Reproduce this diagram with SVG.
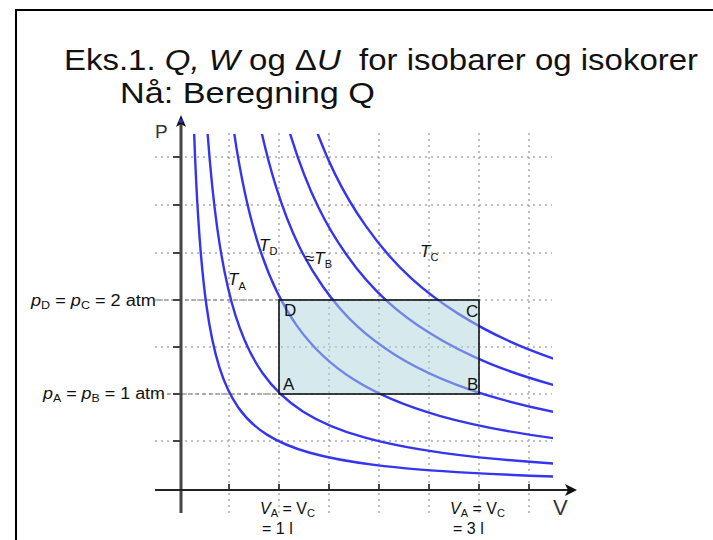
<svg xmlns="http://www.w3.org/2000/svg" width="713" height="540" viewBox="0 0 713 540">
<style>
text{font-family:"Liberation Sans",Arial,sans-serif;fill:#111}
.grid{stroke:#aaa;stroke-width:1.5;stroke-dasharray:2,4;fill:none}
.lead{stroke:#999;stroke-width:1.3;stroke-dasharray:4,3;fill:none}
.iso{fill:none;stroke:#3535f0}
.tick{stroke:#444;stroke-width:2}
.it{font-style:italic}
.ttl{font-size:29px}
</style>
<defs>
<path id="hyp" d="M8,-291.99 C9.333,-243.32 10.667,-216.29 12,-194.66 C14,-162.22 16,-144.19 18,-129.77 C21,-108.14 24,-96.13 27,-86.51 C31.5,-72.09 36,-64.08 40.5,-57.68 C47.25,-48.06 54,-42.72 60.75,-38.45 C70.875,-32.04 81,-28.48 91.125,-25.63 C106.31,-21.36 121.5,-18.99 136.69,-17.09 C159.47,-14.24 182.25,-12.66 205.03,-11.39 C239.2,-9.494 273.4,-8.439 307.55,-7.595"/>
<clipPath id="plot"><rect x="181" y="134" width="372" height="356"/></clipPath>
</defs>
<rect x="16" y="10" width="760" height="600" fill="none" stroke="#000" stroke-width="2"/>
<g id="title">
<g transform="translate(64,0) scale(1.137,1)">
<text class="ttl" x="0" y="70">Eks.1. <tspan class="it">Q, W</tspan> og Δ<tspan class="it">U</tspan>&#160; for isobarer og isokorer</text>
</g>
<text class="ttl" x="120" y="103" textLength="255" lengthAdjust="spacingAndGlyphs">Nå: Beregning Q</text>
</g>
<g id="grid">
<path class="grid" d="M229,133V513M279,133V513M329,133V513M379,133V513M429,133V513M479,133V513M529,133V513"/>
<path class="grid" d="M155,157H552M155,205H552M155,253H552M155,300H552M155,347H552M155,394H552M155,441H552"/>
<path class="lead" d="M157,300H279M167,394H279"/>
</g>
<g id="isotherms" clip-path="url(#plot)">
<use href="#hyp" class="iso" transform="translate(181,489) scale(1.414)" stroke-width="1.70"/>
<use href="#hyp" class="iso" transform="translate(181,489) scale(2.012)" stroke-width="1.19"/>
<use href="#hyp" class="iso" transform="translate(181,489) scale(2.846)" stroke-width="0.843"/>
<use href="#hyp" class="iso" transform="translate(181,489) scale(3.507)" stroke-width="0.684"/>
<use href="#hyp" class="iso" transform="translate(181,489) scale(4.074)" stroke-width="0.589"/>
<use href="#hyp" class="iso" transform="translate(181,489) scale(4.561)" stroke-width="0.526"/>
</g>
<g id="cycle">
<rect x="279" y="300" width="200" height="94" fill="rgb(173,214,220)" fill-opacity="0.5" stroke="#111" stroke-width="1.6"/>
<text x="284" y="316" font-size="17">D</text>
<text x="466" y="317" font-size="17">C</text>
<text x="283" y="390" font-size="17">A</text>
<text x="467" y="390" font-size="17">B</text>
</g>
<g id="axes">
<path class="tick" d="M173,157H181M173,205H181M173,253H181M173,300H181M173,347H181M173,394H181M173,441H181"/>
<path class="tick" d="M229,484V490M279,484V490M329,484V490M379,484V490M429,484V490M479,484V490M529,484V490"/>
<line x1="181" y1="124" x2="181" y2="513" stroke="#444" stroke-width="3"/>
<line x1="155" y1="490" x2="568" y2="490" stroke="#222" stroke-width="2"/>
<path d="M181,115 L186,127 L181,124 L176,127 Z" fill="#111"/>
<circle cx="181" cy="121" r="2" fill="#2233dd"/>
<path d="M577,490 L565,484 L568,490 L565,496 Z" fill="#111"/>
<text x="155" y="138" font-size="19" style="fill:#333">P</text>
<text x="553" y="515" font-size="22" style="fill:#333">V</text>
</g>
<g id="labels">
<text x="31" y="306" font-size="16" textLength="125" lengthAdjust="spacingAndGlyphs"><tspan class="it">p</tspan><tspan font-size="11" dy="3">D</tspan><tspan dy="-3"> = </tspan><tspan class="it">p</tspan><tspan font-size="11" dy="3">C</tspan><tspan dy="-3"> = 2 atm</tspan></text>
<text x="43" y="399" font-size="16" textLength="122" lengthAdjust="spacingAndGlyphs"><tspan class="it">p</tspan><tspan font-size="11" dy="3">A</tspan><tspan dy="-3"> = </tspan><tspan class="it">p</tspan><tspan font-size="11" dy="3">B</tspan><tspan dy="-3"> = 1 atm</tspan></text>
<text x="228" y="285" font-size="17"><tspan class="it">T</tspan><tspan font-size="11" dy="5">A</tspan></text>
<text x="259" y="251" font-size="17"><tspan class="it">T</tspan><tspan font-size="11" dy="4">D</tspan></text>
<text x="305" y="264" font-size="17">≈<tspan class="it">T</tspan><tspan font-size="11" dy="4">B</tspan></text>
<text x="420" y="257" font-size="17"><tspan class="it">T</tspan><tspan font-size="11" dy="4">C</tspan></text>
<text x="260" y="514" font-size="16"><tspan class="it">V</tspan><tspan font-size="11" dy="3">A</tspan><tspan dy="-3"> = V</tspan><tspan font-size="11" dy="3">C</tspan></text>
<text x="262" y="534" font-size="16">= 1 l</text>
<text x="450" y="514" font-size="16"><tspan class="it">V</tspan><tspan font-size="11" dy="3">A</tspan><tspan dy="-3"> = V</tspan><tspan font-size="11" dy="3">C</tspan></text>
<text x="453" y="534" font-size="16">= 3 l</text>
</g>
</svg>
